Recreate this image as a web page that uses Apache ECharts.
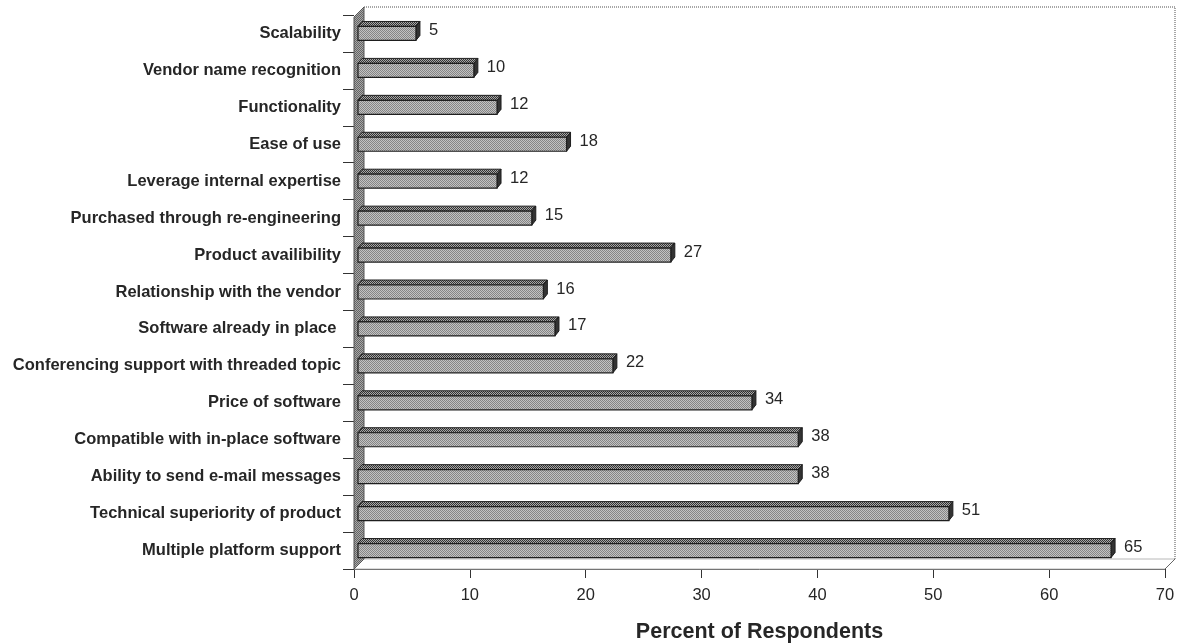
<!DOCTYPE html>
<html>
<head>
<meta charset="utf-8">
<script src="https://cdn.jsdelivr.net/npm/echarts@6/dist/echarts.min.js"></script>
<style>
  html, body { margin: 0; padding: 0; background: #fff; }
  #chart { width: 1178px; height: 644px; }
</style>
</head>
<body>
<div id="chart"></div>
<script>
// Survey factors, listed top to bottom
const categories = [
  'Scalability',
  'Vendor name recognition',
  'Functionality',
  'Ease of use',
  'Leverage internal expertise',
  'Purchased through re-engineering',
  'Product availibility',
  'Relationship with the vendor',
  'Software already in place ',
  'Conferencing support with threaded topic',
  'Price of software',
  'Compatible with in-place software',
  'Ability to send e-mail messages',
  'Technical superiority of product',
  'Multiple platform support'
];
// Percent of respondents per factor
const percents = [5, 10, 12, 18, 12, 15, 27, 16, 17, 22, 34, 38, 38, 51, 65];
// Value axis ticks
const xMin = 0;
const xMax = 70;
const xStep = 10;

const FONT = '"Liberation Sans", Arial, sans-serif';
const TEXT = '#262626';

// small two-tone stipple used to shade the 3D faces
function stipple(a, b) {
  const c = document.createElement('canvas');
  c.width = 2; c.height = 2;
  const g = c.getContext('2d');
  g.fillStyle = a; g.fillRect(0, 0, 2, 2);
  g.fillStyle = b; g.fillRect(0, 0, 1, 1); g.fillRect(1, 1, 1, 1);
  return { image: c, repeat: 'repeat' };
}
const frontFill = stipple('#c2c2c2', '#858585');
const topFill = stipple('#a8a8a8', '#333333');
const wallFill = stipple('#a8a8a8', '#646464');

// depth of the back wall and of each bar
const WALL_DX = 10, WALL_DY = 10;
const BAR_SHIFT = 4, BAR_DX = 4, BAR_DY = 5, BAR_HALF = 7;

function renderFrame(params, api) {
  const cs = params.coordSys;
  const x0 = cs.x, y0 = cs.y, x1 = cs.x + cs.width, y1 = cs.y + cs.height;
  const bx0 = x0 + WALL_DX, bx1 = x1 + WALL_DX;
  const by0 = y0 - WALL_DY + 2, by1 = y1 - WALL_DY;
  return {
    type: 'group',
    children: [
      // floor
      { type: 'polygon', shape: { points: [[x0, y1], [x1, y1], [bx1, by1], [bx0, by1]] },
        style: { fill: '#fff', stroke: '#b8b8b8', lineWidth: 1 } },
      // back wall outline
      { type: 'polyline', shape: { points: [[bx0, by0], [bx1, by0], [bx1, by1]] },
        style: { fill: null, stroke: '#8a8a8a', lineWidth: 1.5, lineDash: [1, 1] } },
      { type: 'line', shape: { x1: bx1, y1: by1, x2: x1, y2: y1 },
        style: { stroke: '#666', lineWidth: 1 } },
      // side wall
      { type: 'polygon', shape: { points: [[x0, y0 + 2], [bx0, by0], [bx0, by1], [x0, y1]] },
        style: { fill: wallFill, stroke: '#555', lineWidth: 1 } }
    ]
  };
}

function renderBar(params, api) {
  const idx = api.value(0);
  const val = api.value(1);
  const p0 = api.coord([xMin, idx]);
  const p1 = api.coord([val, idx]);
  const yc = p0[1];
  const xa = p0[0] + BAR_SHIFT;
  const xb = p1[0] + BAR_SHIFT;
  const yt = yc - BAR_HALF, yb = yc + BAR_HALF;
  return {
    type: 'group',
    children: [
      { type: 'polygon', shape: { points: [[xa, yt], [xb, yt], [xb + BAR_DX, yt - BAR_DY], [xa + BAR_DX, yt - BAR_DY]] },
        style: { fill: topFill, stroke: '#1e1e1e', lineWidth: 1 } },
      { type: 'polygon', shape: { points: [[xb, yt], [xb + BAR_DX, yt - BAR_DY], [xb + BAR_DX, yb - BAR_DY], [xb, yb]] },
        style: { fill: '#333', stroke: '#1e1e1e', lineWidth: 1 } },
      { type: 'rect', shape: { x: xa, y: yt, width: xb - xa, height: yb - yt },
        style: { fill: frontFill, stroke: '#1e1e1e', lineWidth: 1.2 } },
      { type: 'text', style: { text: String(val), x: xb + BAR_DX + 9, y: yc - 3,
        fill: TEXT, font: '16.5px ' + FONT, verticalAlign: 'middle', align: 'left' } }
    ]
  };
}

const chart = echarts.init(document.getElementById('chart'), null, { renderer: 'canvas' });
chart.setOption({
  animation: false,
  backgroundColor: '#fff',
  grid: { left: 354, right: 13, top: 15, bottom: 75, containLabel: false, outerBoundsMode: 'none' },
  xAxis: {
    type: 'value',
    min: xMin, max: xMax, interval: xStep,
    name: 'Percent of Respondents',
    nameLocation: 'middle',
    nameGap: 52,
    nameTextStyle: { fontFamily: FONT, fontSize: 21.5, fontWeight: 'bold', color: TEXT, verticalAlign: 'top' },
    axisLine: { show: true, lineStyle: { color: '#333', width: 1 } },
    axisTick: { show: true, length: 9, lineStyle: { color: '#333' } },
    axisLabel: { margin: 18, fontFamily: FONT, fontSize: 16.5, color: TEXT },
    splitLine: { show: false }
  },
  yAxis: {
    type: 'category',
    data: categories,
    inverse: true,
    axisLine: { show: false },
    axisTick: { show: true, length: 11, lineStyle: { color: '#333' } },
    axisLabel: { margin: 13, fontFamily: FONT, fontSize: 16.5, fontWeight: 'bold', color: TEXT },
    splitLine: { show: false }
  },
  series: [
    {
      type: 'custom',
      renderItem: renderFrame,
      data: [[0, 0]],
      encode: { x: 1, y: 0 },
      z: 1,
      silent: true
    },
    {
      type: 'custom',
      renderItem: renderBar,
      data: percents.map((v, i) => [i, v]),
      encode: { x: 1, y: 0 },
      z: 2
    }
  ]
});
</script>
</body>
</html>
